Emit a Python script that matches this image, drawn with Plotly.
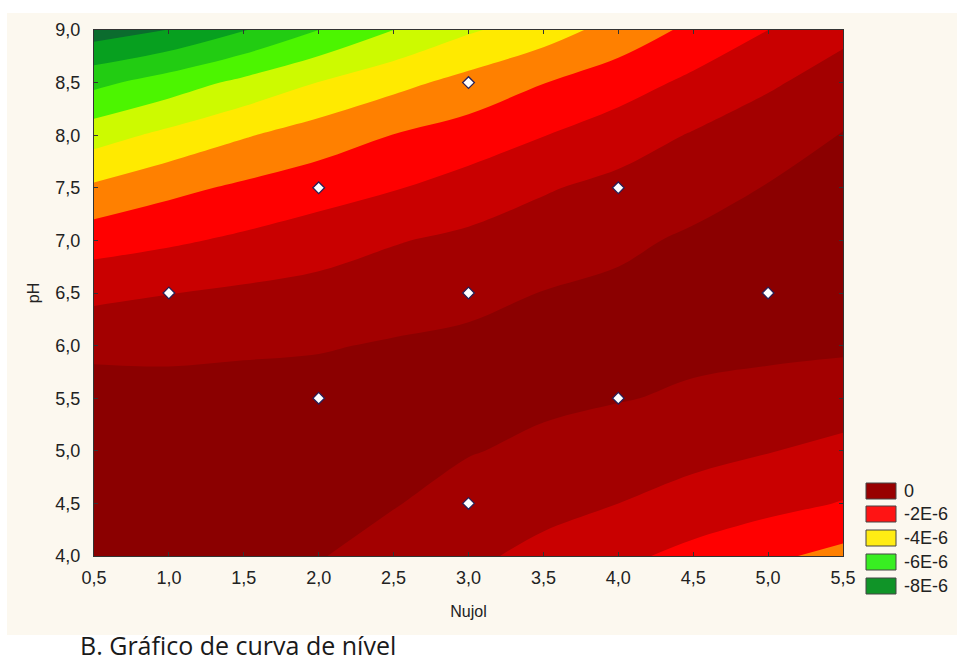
import plotly.graph_objects as go

# ---------------- data ----------------
nujol = [0.5, 1.0, 1.5, 2.0, 2.5, 3.0, 3.5, 4.0, 4.5, 5.0, 5.5]
ph = [4.0, 4.5, 5.0, 5.5, 6.0, 6.5, 7.0, 7.5, 8.0, 8.5, 9.0]

# fitted response (units of 1E-6), one row per pH value, columns follow nujol
response_e6 = [
    [0.24, 0.16, -0.04, -0.36, -0.70, -1.04, -1.42, -1.82, -2.23, -2.64, -3.04],   # pH 4.0
    [0.16, 0.12, 0.04, -0.16, -0.36, -0.69, -0.95, -1.20, -1.50, -1.76, -2.04],    # pH 4.5
    [0.08, 0.04, 0.08, -0.04, -0.16, -0.36, -0.54, -0.80, -0.97, -1.17, -1.40],    # pH 5.0
    [0.00, -0.08, -0.04, -0.08, -0.12, -0.20, -0.28, -0.36, -0.50, -0.66, -0.82],  # pH 5.5
    [-0.62, -0.61, -0.54, -0.46, -0.33, -0.24, -0.24, -0.16, -0.24, -0.24, -0.28], # pH 6.0
    [-1.39, -1.22, -1.07, -0.94, -0.78, -0.60, -0.38, -0.24, -0.16, -0.04, 0.00],  # pH 6.5
    [-2.35, -2.12, -1.86, -1.57, -1.25, -1.03, -0.82, -0.56, -0.28, -0.04, 0.08],  # pH 7.0
    [-3.47, -3.01, -2.66, -2.35, -2.05, -1.68, -1.27, -0.99, -0.70, -0.36, 0.00],  # pH 7.5
    [-4.74, -4.20, -3.67, -3.22, -2.78, -2.44, -2.02, -1.58, -1.14, -0.80, -0.36], # pH 8.0
    [-6.21, -5.63, -5.00, -4.38, -3.84, -3.34, -2.82, -2.37, -1.82, -1.30, -0.88], # pH 8.5
    [-8.00, -7.58, -6.84, -6.00, -5.20, -4.50, -3.98, -3.28, -2.62, -2.00, -1.38], # pH 9.0
]

level_start = -7.6
level_end = -0.4
level_step = 0.8

# design points
point_nujol = [1.0, 2.0, 2.0, 3.0, 3.0, 3.0, 4.0, 4.0, 5.0]
point_ph = [6.5, 7.5, 5.5, 8.5, 6.5, 4.5, 7.5, 5.5, 6.5]

x_tickvals = [0.5, 1.0, 1.5, 2.0, 2.5, 3.0, 3.5, 4.0, 4.5, 5.0, 5.5]
x_ticktext = ["0,5", "1,0", "1,5", "2,0", "2,5", "3,0", "3,5", "4,0", "4,5", "5,0", "5,5"]
y_tickvals = [4.0, 4.5, 5.0, 5.5, 6.0, 6.5, 7.0, 7.5, 8.0, 8.5, 9.0]
y_ticktext = ["4,0", "4,5", "5,0", "5,5", "6,0", "6,5", "7,0", "7,5", "8,0", "8,5", "9,0"]

legend_labels = ["0", "-2E-6", "-4E-6", "-6E-6", "-8E-6"]
legend_colors = ["#980000", "#ff1414", "#ffec14", "#38ee22", "#109428"]

# ---------------- style ----------------
band_colors = ["#0b6c2e", "#07a01f", "#22cc12", "#4cf500", "#cdfa00",
               "#ffea00", "#ff8000", "#ff0000", "#c90000", "#a30000", "#8b0000"]
n_b = len(band_colors) - 1
colorscale = [[i / n_b, c] for i, c in enumerate(band_colors)]

W, H = 957, 664
L, R, T, B = 94, 843, 30, 556


def px(x):
    return (x - L) / (R - L)


def py(y):
    return (B - y) / (B - T)


FONT = "Liberation Sans, Arial, sans-serif"
TXT = "#222222"

fig = go.Figure()
fig.add_trace(go.Contour(
    x=nujol, y=ph, z=response_e6,
    contours=dict(start=level_start, end=level_end, size=level_step,
                  coloring="fill", showlines=False),
    colorscale=colorscale, showscale=False, line=dict(width=0),
    hoverinfo="skip",
))
fig.add_trace(go.Scatter(
    x=point_nujol, y=point_ph, mode="markers",
    marker=dict(symbol="diamond", size=9, color="white",
                line=dict(color="#2a1f55", width=1.3)),
    showlegend=False, hoverinfo="skip",
))

shapes = [
    dict(type="rect", xref="paper", yref="paper", layer="below",
         x0=px(7), x1=px(957), y0=py(635), y1=py(13),
         fillcolor="#fcf8ef", line=dict(width=0)),
]
annotations = []
box_tops = [483, 506, 530, 554, 578]
for lab, col, top in zip(legend_labels, legend_colors, box_tops):
    shapes.append(dict(type="rect", xref="paper", yref="paper",
                       x0=px(866), x1=px(896), y0=py(top + 16), y1=py(top),
                       fillcolor=col, line=dict(color="#444444", width=1)))
    annotations.append(dict(xref="paper", yref="paper", x=px(902), y=py(top + 8),
                            text=lab, showarrow=False, xanchor="left", yanchor="middle",
                            font=dict(family=FONT, size=18, color=TXT)))

annotations.append(dict(xref="paper", yref="paper", x=px(78), y=py(645),
                        text="B. Gráfico de curva de nível", showarrow=False,
                        xanchor="left", yanchor="middle",
                        font=dict(family="Open Sans, Noto Sans, sans-serif", size=25, color="#1a1a1a")))

axis_common = dict(ticks="inside", ticklen=4, tickcolor="#333333", showline=True,
                   linecolor="#333333", linewidth=1, mirror="ticks", showgrid=False,
                   zeroline=False, tickfont=dict(family=FONT, size=18, color=TXT))

fig.update_layout(
    width=W, height=H,
    margin=dict(l=L, r=W - R, t=T, b=H - B, autoexpand=False),
    paper_bgcolor="white", plot_bgcolor="#fcf8ef",
    shapes=shapes, annotations=annotations, showlegend=False,
    xaxis=dict(range=[0.5, 5.5], tickvals=x_tickvals, ticktext=x_ticktext,
               ticklabelstandoff=5,
               title=dict(text="Nujol", standoff=19, font=dict(family=FONT, size=16, color=TXT)),
               **axis_common),
    yaxis=dict(range=[4.0, 9.0], tickvals=y_tickvals, ticktext=y_ticktext,
               ticklabelstandoff=9,
               title=dict(text="pH", standoff=11, font=dict(family=FONT, size=16, color=TXT)),
               **axis_common),
)

fig.write_html("out.html", config={"displayModeBar": False},
               post_script="document.body.style.margin='0';document.body.style.overflow='hidden';")
